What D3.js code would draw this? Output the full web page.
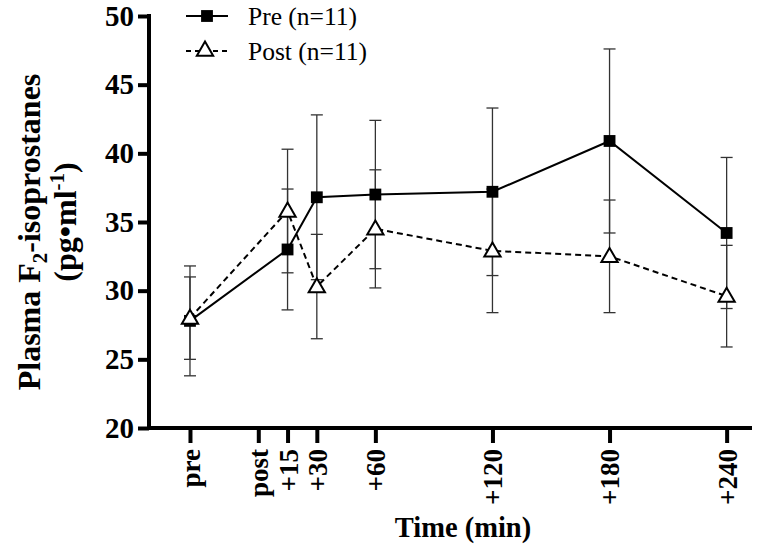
<!DOCTYPE html>
<html><head><meta charset="utf-8">
<script src="https://cdn.jsdelivr.net/npm/d3@7"></script>
<style>body{margin:0;background:#fff}svg{display:block}</style>
</head><body>
<svg id="chart" width="779" height="551"></svg>
<script>
const tickValues = [-35, 0, 15, 30, 60, 120, 180, 240];
const tickLabels = ["pre", "post", "+15", "+30", "+60", "+120", "+180", "+240"];
const times = [-35, 15, 30, 60, 120, 180, 240];
const preMean = [27.8, 33.0, 36.8, 37.0, 37.2, 40.9, 34.2];
const preSD   = [4.0, 4.4, 6.0, 5.4, 6.1, 6.7, 5.5];
const postMean = [28.0, 35.8, 30.3, 34.5, 32.9, 32.5, 29.6];
const postSD   = [3.0, 4.5, 3.8, 4.3, 4.5, 4.1, 3.7];
const yTicks = [20, 25, 30, 35, 40, 45, 50];
const seriesNames = ["Pre (n=11)", "Post (n=11)"];

const svg = d3.select("#chart");
const x = d3.scaleLinear().domain([-56, 253]).range([149, 752]);
const y = d3.scaleLinear().domain([20, 50]).range([428, 16]);
const font = "'Liberation Serif','Times New Roman',serif";

// axes
const yAxis = svg.append("g").attr("transform", `translate(${x(-56)},0)`)
  .call(d3.axisLeft(y).tickValues(yTicks).tickSize(11).tickPadding(4).tickFormat(d3.format("d")));
const xAxis = svg.append("g").attr("transform", `translate(0,${y(20)})`)
  .call(d3.axisBottom(x).tickValues(tickValues).tickSize(15).tickFormat((d, i) => tickLabels[i]));
[yAxis, xAxis].forEach(g => {
  g.attr("font-family", font);
  g.select(".domain").attr("stroke", "#000").attr("stroke-width", 4);
  g.selectAll(".tick line").attr("stroke", "#000").attr("stroke-width", 4);
  g.selectAll("text").attr("font-family", font).attr("font-weight", "bold").attr("fill", "#000");
});
yAxis.selectAll("text").attr("font-size", 29);
xAxis.selectAll("text").attr("font-size", 27);
yAxis.select(".domain").attr("d", `M0,${y(20)+2}V${y(50)-2}`);
xAxis.select(".domain").attr("d", `M${x(-56)-2},0H${x(253)}`);
xAxis.selectAll(".tick text")
  .attr("transform", "rotate(-90)")
  .attr("text-anchor", "end")
  .attr("x", -21).attr("y", 0).attr("dy", "0.35em");

// error bars
function errBars(means, sds, cls) {
  const g = svg.append("g").attr("class", cls).attr("stroke", "#333").attr("stroke-width", 1.3);
  times.forEach((t, i) => {
    const cx = x(t), hi = y(means[i] + sds[i]), lo = y(means[i] - sds[i]);
    g.append("line").attr("x1", cx).attr("x2", cx).attr("y1", hi).attr("y2", lo);
    g.append("line").attr("x1", cx - 6).attr("x2", cx + 6).attr("y1", hi).attr("y2", hi);
    g.append("line").attr("x1", cx - 6).attr("x2", cx + 6).attr("y1", lo).attr("y2", lo);
  });
}
errBars(preMean, preSD, "pre-err");
errBars(postMean, postSD, "post-err");

const line = d3.line().x(d => x(d[0])).y(d => y(d[1]));
const preData = times.map((t, i) => [t, preMean[i]]);
const postData = times.map((t, i) => [t, postMean[i]]);

svg.append("path").datum(preData).attr("d", line).attr("fill", "none")
  .attr("stroke", "#000").attr("stroke-width", 2);
svg.append("path").datum(postData).attr("d", line).attr("fill", "none")
  .attr("stroke", "#000").attr("stroke-width", 2).attr("stroke-dasharray", "6,4");

const sq = d3.symbol().type(d3.symbolSquare).size(140);
const tri = d3.symbol().type(d3.symbolTriangle).size(115);
svg.append("g").selectAll("path").data(preData).join("path")
  .attr("d", sq).attr("transform", d => `translate(${x(d[0])},${y(d[1])})`)
  .attr("fill", "#000");
svg.append("g").selectAll("path").data(postData).join("path")
  .attr("d", tri).attr("transform", d => `translate(${x(d[0])},${y(d[1])+1})`)
  .attr("fill", "#fff").attr("stroke", "#000").attr("stroke-width", 2);

// legend
const lg = svg.append("g");
lg.append("line").attr("x1", 186).attr("x2", 228).attr("y1", 16).attr("y2", 16)
  .attr("stroke", "#000").attr("stroke-width", 2);
lg.append("path").attr("d", sq).attr("transform", "translate(207,16)").attr("fill", "#000");
lg.append("line").attr("x1", 186).attr("x2", 228).attr("y1", 51).attr("y2", 51)
  .attr("stroke", "#000").attr("stroke-width", 2).attr("stroke-dasharray", "5,4");
lg.append("path").attr("d", tri).attr("transform", "translate(205,51)")
  .attr("fill", "#fff").attr("stroke", "#000").attr("stroke-width", 2);
lg.selectAll("text").data(seriesNames).join("text")
  .attr("x", 248).attr("y", (d, i) => 25 + i * 35)
  .attr("font-family", font).attr("font-size", 25.5).attr("fill", "#000")
  .text(d => d);

// axis titles
svg.append("text").attr("x", 463).attr("y", 537).attr("text-anchor", "middle")
  .attr("font-family", font).attr("font-weight", "bold").attr("font-size", 28.5)
  .text("Time (min)");

const yt = svg.append("text").attr("transform", "translate(40,232) rotate(-90)")
  .attr("text-anchor", "middle").attr("font-family", font).attr("font-weight", "bold")
  .attr("font-size", 32);
yt.append("tspan").text("Plasma F");
yt.append("tspan").attr("font-size", 21).attr("dy", 7).text("2");
yt.append("tspan").attr("dy", -7).text("-isoprostanes");
const yt2 = svg.append("text").attr("transform", "translate(76,222) rotate(-90)")
  .attr("text-anchor", "middle").attr("font-family", font).attr("font-weight", "bold")
  .attr("font-size", 32);
yt2.append("tspan").text("(pg•ml");
yt2.append("tspan").attr("font-size", 21).attr("dy", -12).text("-1");
yt2.append("tspan").attr("dy", 12).text(")");
</script>
</body></html>
